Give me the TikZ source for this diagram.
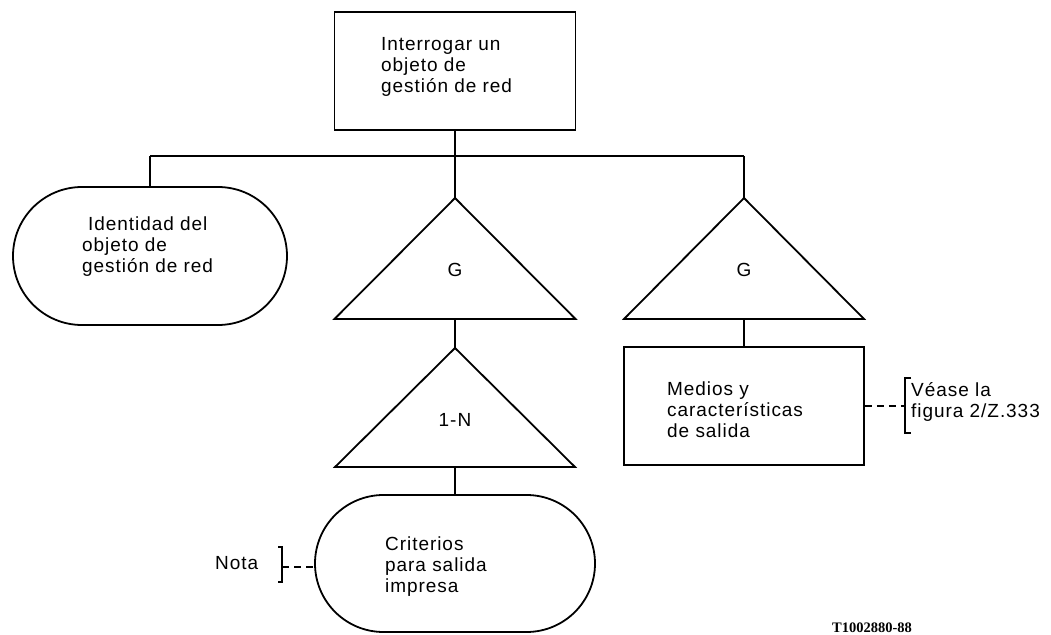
\documentclass[tikz,border=0pt]{standalone}
\usepackage{fontspec}
\setmainfont{Liberation Sans}[LetterSpace=5]
\newfontfamily\codefont{Liberation Serif}
\usetikzlibrary{shapes.misc}
\tikzset{
  conn/.style={line width=1.8pt, line join=miter},
  box/.style={draw, line width=1.8pt, rectangle, inner sep=0pt},
  pill/.style={draw, line width=1.8pt, rounded rectangle, inner sep=0pt},
  dashconn/.style={line width=1.5pt, dash pattern=on 7pt off 5pt},
  brk/.style={line width=1.8pt},
  lbl/.style={inner sep=0pt, align=left, font=\fontsize{19}{21}\selectfont},
  code/.style={inner sep=0pt, font=\codefont\bfseries\fontsize{14.5}{16}\selectfont},
}
\begin{document}
\begin{tikzpicture}[x=1pt,y=-1pt]
\useasboundingbox (0,0) rectangle (1051,634);

% boxes and terminals
\node[box, minimum width=241pt, minimum height=118pt] (top) at (455,71) {};
\node[pill, minimum width=274pt, minimum height=138pt] (ident) at (150,256) {};
\node[box, minimum width=240pt, minimum height=118pt] (medios) at (744,406) {};
\node[pill, minimum width=280pt, minimum height=137pt] (crit) at (455,563.5) {};

% branching bus
\coordinate (busL) at (150,156);
\coordinate (busR) at (744,156);

% triangles: apex and base centre
\coordinate (gmtop) at (455,198);  \coordinate (gmbase) at (455,319);
\coordinate (grtop) at (744,198);  \coordinate (grbase) at (744,319);
\coordinate (gntop) at (455,348);  \coordinate (gnbase) at (455,467);
\draw[conn] (gmtop) -- ++(120.5,121) -- ++(-241,0) -- cycle;
\draw[conn] (grtop) -- ++(120,121) -- ++(-240,0) -- cycle;
\draw[conn] (gntop) -- ++(120,119) -- ++(-240,0) -- cycle;

% connectors
\draw[conn] (top.south) -- (gmtop);
\draw[conn] (busL) -- (busR);
\draw[conn] (busL) -- (ident.north);
\draw[conn] (busR) -- (grtop);
\draw[conn] (gmbase) -- (gntop);
\draw[conn] (gnbase) -- (crit.north);
\draw[conn] (grbase) -- (medios.north);

% side notes
\coordinate (brkR) at (905,406);
\draw[dashconn] (medios.east) -- (brkR);
\draw[brk] (brkR) ++(6,-28) -- ++(-6,0) -- ++(0,55) -- ++(6,0);
\coordinate (brkL) at (282,567);
\draw[dashconn] (brkL) -- (brkL -| crit.west);
\draw[brk] (brkL) ++(-4,-20) -- ++(4,0) -- ++(0,35) -- ++(-4,0);

% texts
\node[lbl, anchor=north west] (ttop) at (381,37) {Interrogar un\\objeto de\\gestión de red};
\node[lbl, anchor=north west] (tident) at (82,217) {\hspace*{6pt}Identidad del\\objeto de\\gestión de red};
\node[lbl] (tgm) at (455,270) {G};
\node[lbl] (tgr) at (744,270) {G};
\node[lbl] (tgn) at (455,420) {1-N};
\node[lbl, anchor=north west] (tmed) at (667,382) {Medios y\\características\\de salida};
\node[lbl, anchor=north west] (tvease) at (911,382) {Véase la\\figura 2/Z.333};
\node[lbl, anchor=north west] (tcrit) at (385,537) {Criterios\\para salida\\impresa};
\node[lbl, anchor=base west] (tnota) at (215,569) {Nota};
\node[code, anchor=base west] (tcode) at (832,632) {T1002880-88};
\end{tikzpicture}
\end{document}
